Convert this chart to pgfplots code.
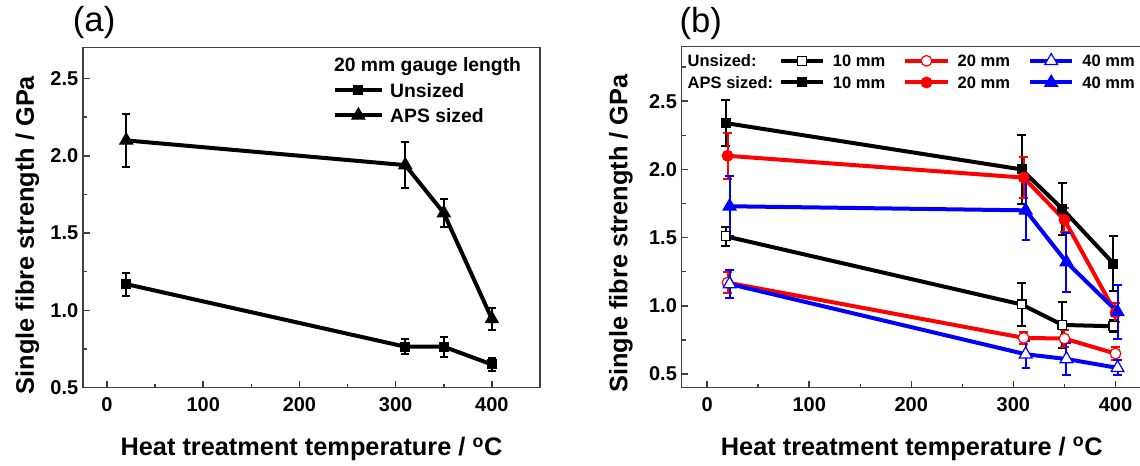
\documentclass[border=0pt]{standalone}
\usepackage{fontspec}
\setmainfont{Liberation Sans}
\usepackage{pgfplots}
\pgfplotsset{compat=1.18}

\definecolor{cred}{RGB}{255,0,0}
\definecolor{cblue}{RGB}{0,0,255}

\pgfplotsset{
  panel/.style={
    scale only axis,
    xmin=-25, xmax=450,
    xtick={0,100,...,400}, minor xtick={50,150,250,350},
    tick align=inside, tick pos=left,
    major tick length=5pt, minor tick length=3pt,
    axis line style={draw=black!75, line width=1.2pt},
    tick style={draw=black!75, line width=1.1pt},
    /pgf/number format/assume math mode=true,
    ticklabel style={font=\fontsize{15}{18}\selectfont\bfseries},
    xticklabel style={yshift=-3.7pt},
    yticklabel style={/pgf/number format/.cd, fixed, fixed zerofill, precision=1},
    label style={font=\fontsize{19}{22}\selectfont\bfseries},
    xlabel={Heat treatment temperature / \textsuperscript{o}C},
    ylabel={Single fibre strength / GPa},
  },
  ser/.style={line width=3pt, forget plot,
    error bars/y dir=both, error bars/y explicit,
    error bars/error bar style={line width=1.5pt, solid},
    error bars/error mark options={line width=1.5pt, mark size=3.1pt, rotate=90}},
  sq/.style={mark=square*, mark size=3.3pt, mark options={solid, line width=0.9pt, fill=#1}},
  ci/.style={mark=*, mark size=4pt, mark options={solid, line width=0.9pt, fill=#1}},
  tr/.style={mark=triangle*, mark size=5.5pt, mark options={solid, line width=0.9pt, fill=#1}},
}

\begin{document}
\begin{tikzpicture}

% ---------------- (a) ----------------
\begin{axis}[panel,
  at={(62.2pt,58pt)}, anchor=south west,
  width=342.8pt, height=255pt,
  ymin=0.5, ymax=2.7,
  ytick={0.5,1,...,2.5}, minor ytick={0.75,1.25,...,2.25},
  xlabel style={at={(rel axis cs:0.5,0)}, anchor=base, yshift=-51.2pt},
  ylabel style={at={(rel axis cs:-0.1216,0.449)}, anchor=center},
  legend image code/.code={\draw[mark repeat=2,mark phase=2,#1]
      plot coordinates {(0pt,0pt) (17.75pt,0pt) (35.5pt,0pt)};},
  legend style={at={(rel axis cs:0.5465,0.8988)}, anchor=north west,
    draw=none, fill=none, inner sep=0pt, outer sep=0pt,
    row sep=6.35pt, column sep=4.6pt,
    font=\fontsize{14.5}{17}\selectfont\bfseries,
    nodes={inner sep=0pt, text height=11.4pt, text depth=1pt}},
  legend cell align=left,
]
\addlegendimage{black, line width=3pt, sq=black}
\addlegendentry{Unsized}
\addlegendimage{black, line width=3pt, tr=black}
\addlegendentry{APS sized}

\addplot[black, sq=black, ser] coordinates {
  (20,1.17) +- (0,0.075)
  (310,0.765) +- (0,0.05)
  (350,0.765) +- (0,0.065)
  (400,0.65) +- (0,0.04)
};
\addplot[black, tr=black, ser] coordinates {
  (20,2.10) +- (0,0.17)
  (310,1.94) +- (0,0.15)
  (350,1.63) +- (0,0.09)
  (400,0.945) +- (0,0.07)
};
\node[anchor=base west, inner sep=0pt, font=\fontsize{14.5}{17}\selectfont\bfseries]
  at (rel axis cs:0.549,0.929) {20 mm gauge length};
\end{axis}

% ---------------- (b) ----------------
\begin{axis}[panel,
  at={(511.2pt,58pt)}, anchor=south west,
  width=363.7pt, height=255.75pt,
  ymin=0.4, ymax=2.9,
  ytick={0.5,1,...,2.5}, minor ytick={0.75,1.25,...,2.75},
  xlabel style={at={(rel axis cs:0.4747,0)}, anchor=base, yshift=-50.5pt},
  ylabel style={at={(rel axis cs:-0.125,0.4516)}, anchor=center},
  legend columns=3,
  legend image code/.code={\draw[mark repeat=2,mark phase=2,#1]
      plot coordinates {(0pt,0pt) (15.9pt,0pt) (31.75pt,0pt)};},
  legend style={at={(rel axis cs:0.2,0.980)}, anchor=north west,
    draw=none, fill=none, inner sep=0pt, outer sep=0pt,
    row sep=5.3pt, column sep=6pt,
    font=\fontsize{12.4}{15}\selectfont\bfseries,
    nodes={inner sep=0pt, text height=9.9pt, text depth=1pt},
    /tikz/every even column/.append style={column sep=13.5pt}},
  legend cell align=left,
]
\addlegendimage{black, line width=3pt, sq=white}\addlegendentry{10 mm}
\addlegendimage{cred, line width=3pt, ci=white}\addlegendentry{20 mm}
\addlegendimage{cblue, line width=3pt, tr=white}\addlegendentry{40 mm}
\addlegendimage{black, line width=3pt, sq=black}\addlegendentry{10 mm}
\addlegendimage{cred, line width=3pt, ci=cred}\addlegendentry{20 mm}
\addlegendimage{cblue, line width=3pt, tr=cblue}\addlegendentry{40 mm}

% unsized
\addplot[black, sq=white, ser] coordinates {
  (18,1.51) +- (0,0.07)
  (308,1.01) +- (0,0.155)
  (348,0.86) +- (0,0.17)
  (398,0.85) +- (0,0.045)
};
\addplot[cred, ci=white, ser] coordinates {
  (20,1.17) +- (0,0.077)
  (310,0.765) +- (0,0.045)
  (350,0.76) +- (0,0.065)
  (400,0.65) +- (0,0.045)
};
\addplot[cblue, tr=white, ser] coordinates {
  (22,1.16) +- (0,0.105)
  (312,0.645) +- (0,0.1)
  (352,0.61) +- (0,0.115)
  (402,0.545) +- (0,0.055)
};
% APS sized
\addplot[black, sq=black, ser] coordinates {
  (18,2.34) +- (0,0.17)
  (308,2.00) +- (0,0.25)
  (348,1.71) +- (0,0.19)
  (398,1.31) +- (0,0.2)
};
\addplot[cred, ci=cred, ser] coordinates {
  (20,2.10) +- (0,0.17)
  (310,1.94) +- (0,0.15)
  (350,1.63) +- (0,0.09)
  (400,0.95) +- (0,0.07)
};
\addplot[cblue, tr=cblue, ser] coordinates {
  (22,1.73) +- (0,0.22)
  (312,1.70) +- (0,0.22)
  (352,1.32) +- (0,0.215)
  (402,0.955) +- (0,0.2)
};

\node[anchor=base west, inner sep=0pt, font=\fontsize{12.4}{15}\selectfont\bfseries]
  at (rel axis cs:0.012,0.9413) {Unsized:};
\node[anchor=base west, inner sep=0pt, font=\fontsize{12.4}{15}\selectfont\bfseries]
  at (rel axis cs:0.012,0.878) {APS sized:};
\end{axis}

\node[anchor=base west, inner sep=0pt, font=\fontsize{26}{30}\selectfont]
  at (54.5pt,325pt) {(a)};
\node[anchor=base west, inner sep=0pt, font=\fontsize{26}{30}\selectfont]
  at (509.5pt,324pt) {(b)};

\pgfresetboundingbox
\path[use as bounding box] (0,0) rectangle (855pt,348.75pt);
\end{tikzpicture}
\end{document}
